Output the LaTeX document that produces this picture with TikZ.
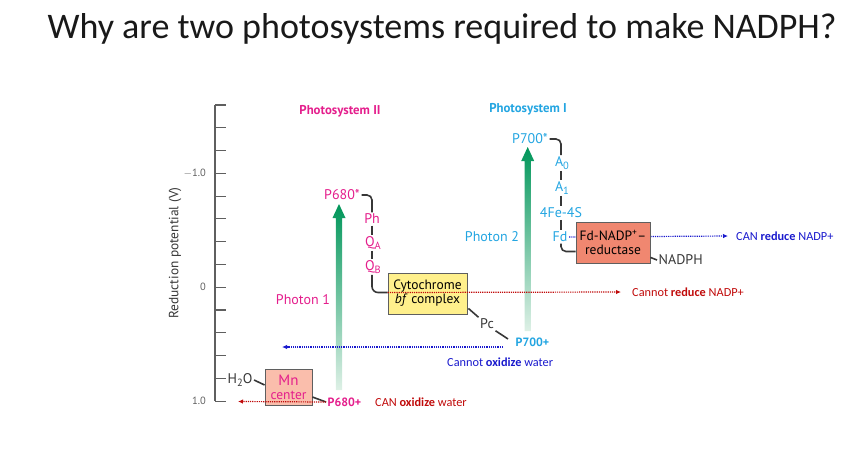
\documentclass[tikz,border=0pt]{standalone}
\usepackage{fontspec}
\setmainfont{Carlito}
\newfontfamily\figfont{PT Sans}
\usetikzlibrary{arrows.meta}
\definecolor{psii}{RGB}{228,30,140}
\definecolor{psi}{RGB}{35,165,225}
\definecolor{annred}{RGB}{192,10,10}
\definecolor{annblue}{RGB}{25,25,205}
\definecolor{ink}{RGB}{55,55,55}
\definecolor{axisgray}{RGB}{95,95,95}
\definecolor{arrgreen}{RGB}{0,150,90}
\definecolor{arrpale}{RGB}{222,240,230}
\definecolor{cytfill}{RGB}{255,240,140}
\definecolor{mnfill}{RGB}{250,190,172}
\definecolor{fdfill}{RGB}{240,135,112}
\definecolor{titleink}{RGB}{25,25,25}
\newcommand{\lowsub}[1]{\raisebox{-0.35ex}{\fontsize{10.5}{10.5}\selectfont #1}}
\begin{document}
\begin{tikzpicture}[x=1pt,y=-1pt,
  lbl/.style={font=\figfont\fontsize{14}{14}\selectfont, inner sep=1.5pt},
  plus/.style={font=\figfont\fontsize{12}{12}\selectfont\bfseries, anchor=west, inner sep=1.5pt},
  pslbl/.style={font=\figfont\fontsize{12.8}{12.8}\selectfont\bfseries, inner sep=0pt},
  axlbl/.style={font=\figfont\fontsize{10.5}{10.5}\selectfont, text=axisgray, inner sep=0pt},
  ann/.style={font=\fontsize{12.3}{12.3}\selectfont, inner sep=0pt, anchor=west},
  boxed/.style={draw=ink!80, line width=0.8pt, inner sep=0pt, align=center,
    font=\figfont\fontsize{13.5}{14}\selectfont},
  chain/.style={draw=ink, line width=1.6pt},
  dotline/.style={line width=1.2pt, dash pattern=on 1.2pt off 1pt, -{Latex[length=5pt,width=4.5pt]}},
]
\useasboundingbox (0,0) rectangle (857,459);

% title
\node[font=\fontsize{36}{36}\selectfont, text=titleink, inner sep=0pt] (title) at (442,29)
  {Why are two photosystems required to make NADPH?};

% axis
\draw[axisgray, line width=1.1pt] (215,105) -- (215,401.3);
\foreach \i in {0,...,13} \draw[axisgray, line width=1.1pt] (215,105+\i*22.78) -- (226,105+\i*22.78);
\node[axlbl, anchor=east] (tm1) at (206,173.3) {$-$1.0};
\node[axlbl, anchor=east] (t0) at (206,287.3) {0};
\node[axlbl, anchor=east] (t1) at (206,401.3) {1.0};
\node[font=\figfont\fontsize{13.4}{13.4}\selectfont, text=ink, rotate=90, inner sep=0pt] (ylab) at (175,253) {Reduction potential (V)};

% photosystem labels
\node[pslbl, text=psii] (psiilab) at (340,111) {Photosystem II};
\node[pslbl, text=psi] (psilab) at (528,109) {Photosystem I};

% gradient arrows
\shade[top color=arrgreen, bottom color=arrpale] (339,204) -- (345.5,218) -- (342.2,218) -- (342.2,390) -- (335.8,390) -- (335.8,218) -- (332.5,218) -- cycle;
\shade[top color=arrgreen, bottom color=arrpale] (527.7,147) -- (534.2,161) -- (530.9,161) -- (530.9,331) -- (524.5,331) -- (524.5,161) -- (521.2,161) -- cycle;

\node[lbl, text=psii] (photon1) at (303,300) {Photon 1};
\node[lbl, text=psi] (photon2) at (492,237) {Photon 2};

% PS II chain
\node[lbl, text=psii] (p680s) at (342,195) {P680*};
\node[lbl, text=psii] (ph) at (372,219) {Ph};
\node[lbl, text=psii] (qa) at (373,243) {Q\lowsub{A}};
\node[lbl, text=psii] (qb) at (373,267) {Q\lowsub{B}};
\node[boxed, fill=cytfill, minimum width=79pt, minimum height=41pt] (cyt) at (427.5,293.5)
  {Cytochrome\\\textit{bf} complex};
\draw[chain, rounded corners=5pt] (p680s.east) -| (ph.north);
\draw[chain] (ph.south) -- (ph.south |- qa.north);
\draw[chain] (ph.south |- qa.south) -- (ph.south |- qb.north);
\draw[chain, rounded corners=6pt] (ph.south |- qb.south) |- ([yshift=1pt]cyt.west);
\node[lbl, text=ink] (pc) at (487,324) {Pc};
\node[plus, text=psi] (p700p) at (514,342) {P700+};
\draw[chain] ([xshift=1pt,yshift=6pt]cyt.south east) -- (pc.north west);
\draw[chain] (pc.south east) -- ([xshift=-6pt,yshift=3pt]p700p.west);

% PS I chain
\node[lbl, text=psi] (p700s) at (530,139) {P700*};
\node[lbl, text=psi] (a0) at (562,163) {A\lowsub{0}};
\node[lbl, text=psi] (a1) at (562,188) {A\lowsub{1}};
\node[lbl, text=psi] (fe) at (561,213) {4Fe-4S};
\node[lbl, text=psi] (fd) at (560,237) {Fd};
\draw[chain, rounded corners=5pt] (p700s.east) -| (fe.north |- a0.north);
\draw[chain] (fe.north |- a0.south) -- (fe.north |- a1.north);
\draw[chain] (fe.north |- a1.south) -- (fe.north);
\draw[chain] (fe.south) -- (fe.south |- fd.north);

% annotations text
\node[ann, text=annred] (crn) at (632,292) {Cannot \textbf{reduce} NADP+};
\node[ann, text=annblue] (crp) at (736,236) {CAN \textbf{reduce} NADP+};
\node[ann, text=annblue] (cox) at (447,362) {Cannot \textbf{oxidize} water};
\coordinate (noxend) at (282,347);
\coordinate (oxend) at (238,401.5);

% blue top line (under the reductase box)
\draw[dotline, annblue] (fd.east) -- ([xshift=-8pt]crp.west);

\node[boxed, fill=fdfill, minimum width=74pt, minimum height=41pt] (fdbox) at (613,242.5)
  {Fd-NADP\textsuperscript{+}–\\reductase};
\draw[chain, rounded corners=5pt] (fe.south |- fd.south) |- ([yshift=-9pt]fdbox.west);
\node[lbl, text=ink, anchor=west] (nadph) at (657,260) {NADPH};
\draw[chain] ([yshift=6pt]fdbox.south east) -- (nadph.west);

% red line over the cytochrome box
\draw[dotline, annred] ([yshift=1pt]cyt.west) -- ([xshift=-11pt]crn.west);

% blue bottom line
\draw[dotline, annblue] ([xshift=-11pt,yshift=-5pt]p700p.west) -- (noxend);

% Mn centre
\node[lbl, text=ink] (h2o) at (240,380) {H\lowsub{2}O};
\node[boxed, fill=mnfill, text=psii, minimum width=47pt, minimum height=36pt] (mn) at (288.5,387) {{\fontsize{15}{15}\selectfont Mn}\\center};
\draw[chain] (h2o.east) -- ([yshift=2pt]mn.west);
\node[plus, text=psii] (p680p) at (326,402) {P680+};
\draw[chain] ([yshift=-10pt]mn.east) -- (p680p.west);
\node[ann, text=annred] (canox) at (375,402) {CAN \textbf{oxidize} water};
\draw[dotline, annred] (p680p.west) -- (oxend);
\end{tikzpicture}
\end{document}
